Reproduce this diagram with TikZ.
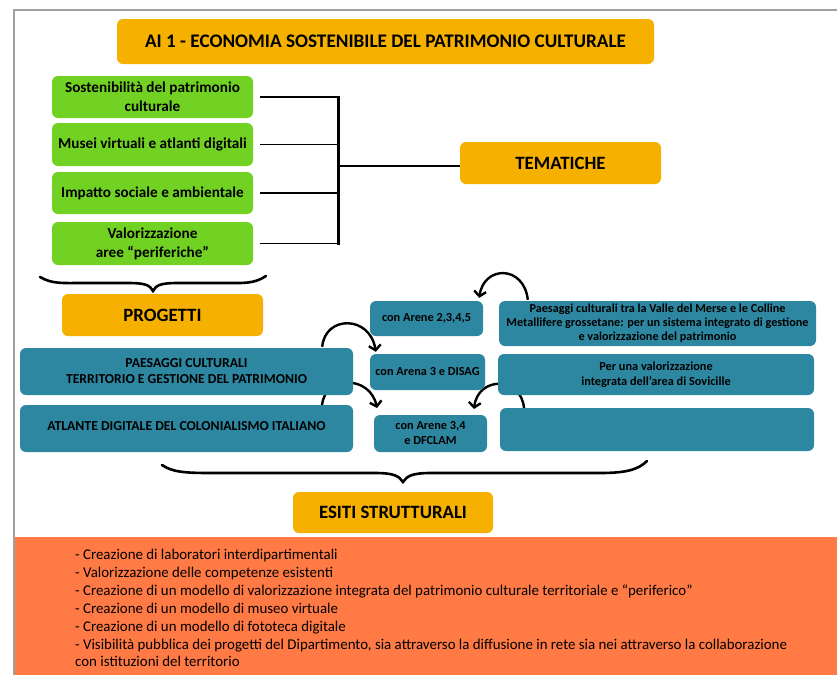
\documentclass[tikz,border=0pt]{standalone}
\usepackage{fontspec}
\setmainfont{Carlito}
\usetikzlibrary{arrows.meta}

\definecolor{boxorange}{HTML}{F5B000}
\definecolor{boxgreen}{HTML}{72D223}
\definecolor{boxteal}{HTML}{2E87A0}
\definecolor{bandorange}{HTML}{FF7A45}
\definecolor{framegray}{HTML}{A0A0A0}

\tikzset{
  box/.style={rounded corners=6pt, inner sep=0pt, align=center, font=\bfseries},
  headbox/.style={box, fill=boxorange, font=\bfseries\fontsize{18.8}{22}\selectfont},
  themebox/.style={box, fill=boxgreen, minimum width=201pt, font=\bfseries\fontsize{15.2}{19}\selectfont},
  projbox/.style={box, fill=boxteal, font=\bfseries\fontsize{12.3}{15}\selectfont},
  bendarrow/.style={line width=2.4pt, -{Straight Barb[length=5pt,width=12pt]}},
}

\begin{document}
\begin{tikzpicture}[x=1pt,y=-1pt]
  \useasboundingbox (0,0) rectangle (837,675);
  \fill[bandorange] (14,537) rectangle (837,675);
  \draw[framegray, line width=1.2pt] (14,675) -- (14,10) -- (837,10);

  % title and themes
  \node[headbox, minimum width=537pt, minimum height=45pt, font=\bfseries\fontsize{19.2}{22}\selectfont] (title) at (385.5,41.5)
    {AI 1 - ECONOMIA SOSTENIBILE DEL PATRIMONIO CULTURALE};
  \node[themebox, minimum height=42pt] (g1) at (152.5,97) {Sostenibilità del patrimonio\\culturale};
  \node[themebox, minimum height=43pt] (g2) at (152.5,144.5) {Musei virtuali e atlanti digitali};
  \node[themebox, minimum height=42pt] (g3) at (152.5,193) {Impatto sociale e ambientale};
  \node[themebox, minimum height=43pt] (g4) at (152.5,243.5) {Valorizzazione\\aree “periferiche”};
  \node[headbox, minimum width=201pt, minimum height=42pt] (tem) at (560.5,163) {TEMATICHE};

  \coordinate (bar) at (338,166);
  \foreach \g in {g1,g2,g3,g4}
    \draw[line width=1.8pt] ([xshift=7pt]\g.east) -- (\g.east -| bar);
  \draw[line width=3pt] ([yshift=1pt]g1.east -| bar) -- ([yshift=-1.5pt]g4.east -| bar);
  \draw[line width=1.2pt] (bar) -- (tem.west |- bar);

  % brace over PROGETTI
  \draw[line width=2.6pt, line cap=round] (40,277) .. controls (52,284) and (62,283) .. (82,283)
    -- (128,283) .. controls (145,283) and (150,285) .. (153,291)
    .. controls (156,285) and (161,283) .. (178,283) -- (224,283)
    .. controls (244,283) and (254,284) .. (266,276);
  \node[headbox, minimum width=201pt, minimum height=42pt] (prog) at (162.5,315) {PROGETTI};

  % hidden arrow tails
  \draw[bendarrow] (322,405) .. controls (325,375) and (370,375) .. (377,408);
  \draw[bendarrow] (524,408) .. controls (521,376) and (478,376) .. (474,409);

  % projects
  \node[projbox, minimum width=333pt, minimum height=47pt, font=\bfseries\fontsize{13.7}{16}\selectfont] (paes) at (186.5,371.5)
    {PAESAGGI CULTURALI\\TERRITORIO E GESTIONE DEL PATRIMONIO};
  \node[projbox, minimum width=333pt, minimum height=47pt, font=\bfseries\fontsize{13.7}{16}\selectfont] (atl) at (186.5,428.5)
    {\raisebox{6pt}{ATLANTE DIGITALE DEL COLONIALISMO ITALIANO}};
  \node[projbox, minimum width=113pt, minimum height=35pt] (ar1) at (426.5,318.5) {con Arene 2,3,4,5};
  \node[projbox, minimum width=115pt, minimum height=36pt] (ar2) at (427.5,372) {con Arena 3 e DISAG};
  \node[projbox, minimum width=113pt, minimum height=37pt] (ar3) at (430.5,433.5) {con Arene 3,4\\e DFCLAM};
  \node[projbox, minimum width=317pt, minimum height=45pt, font=\bfseries\fontsize{12.2}{14}\selectfont] (pr1) at (657.5,323.5)
    {Paesaggi culturali tra la Valle del Merse e le Colline\\Metallifere grossetane: per un sistema integrato di gestione\\e valorizzazione del patrimonio};
  \node[projbox, minimum width=316pt, minimum height=41pt] (pr2) at (656,374.5)
    {Per una valorizzazione\\integrata dell’area di Sovicille};
  \node[projbox, minimum width=314pt, minimum height=43pt] (pr3) at (657,429.5) {};

  % curved arrows
  \draw[bendarrow] ([xshift=-31pt,yshift=1pt]paes.north east) .. controls (325,315) and (370,315) .. ([xshift=6pt,yshift=2pt]ar2.north west);
  \draw[bendarrow] ([xshift=29pt,yshift=1pt]pr1.north west) .. controls (524,265) and (484,265) .. ([xshift=-4pt,yshift=3pt]ar1.north east);

  % brace over ESITI
  \draw[line width=2.6pt, line cap=round] (162,465) .. controls (172,472) and (185,473) .. (210,473)
    -- (375,473) .. controls (394,473) and (399,476) .. (403,482)
    .. controls (407,476) and (412,473) .. (431,473) -- (600,473)
    .. controls (625,473) and (638,470) .. (647,461);
  \node[headbox, minimum width=200pt, minimum height=41pt] (esiti) at (393,512.5) {ESITI STRUTTURALI};

  % outcomes
  \node[anchor=north west, inner sep=0pt, align=left, font=\fontsize{14.9}{17.9}\selectfont] (out) at (75,549)
    {- Creazione di laboratori interdipartimentali\\
     - Valorizzazione delle competenze esistenti\\
     - Creazione di un modello di valorizzazione integrata del patrimonio culturale territoriale e “periferico”\\
     - Creazione di un modello di museo virtuale\\
     - Creazione di un modello di fototeca digitale\\
     - Visibilità pubblica dei progetti del Dipartimento, sia attraverso la diffusione in rete sia nei attraverso la collaborazione\\
     con istituzioni del territorio};
\end{tikzpicture}
\end{document}
